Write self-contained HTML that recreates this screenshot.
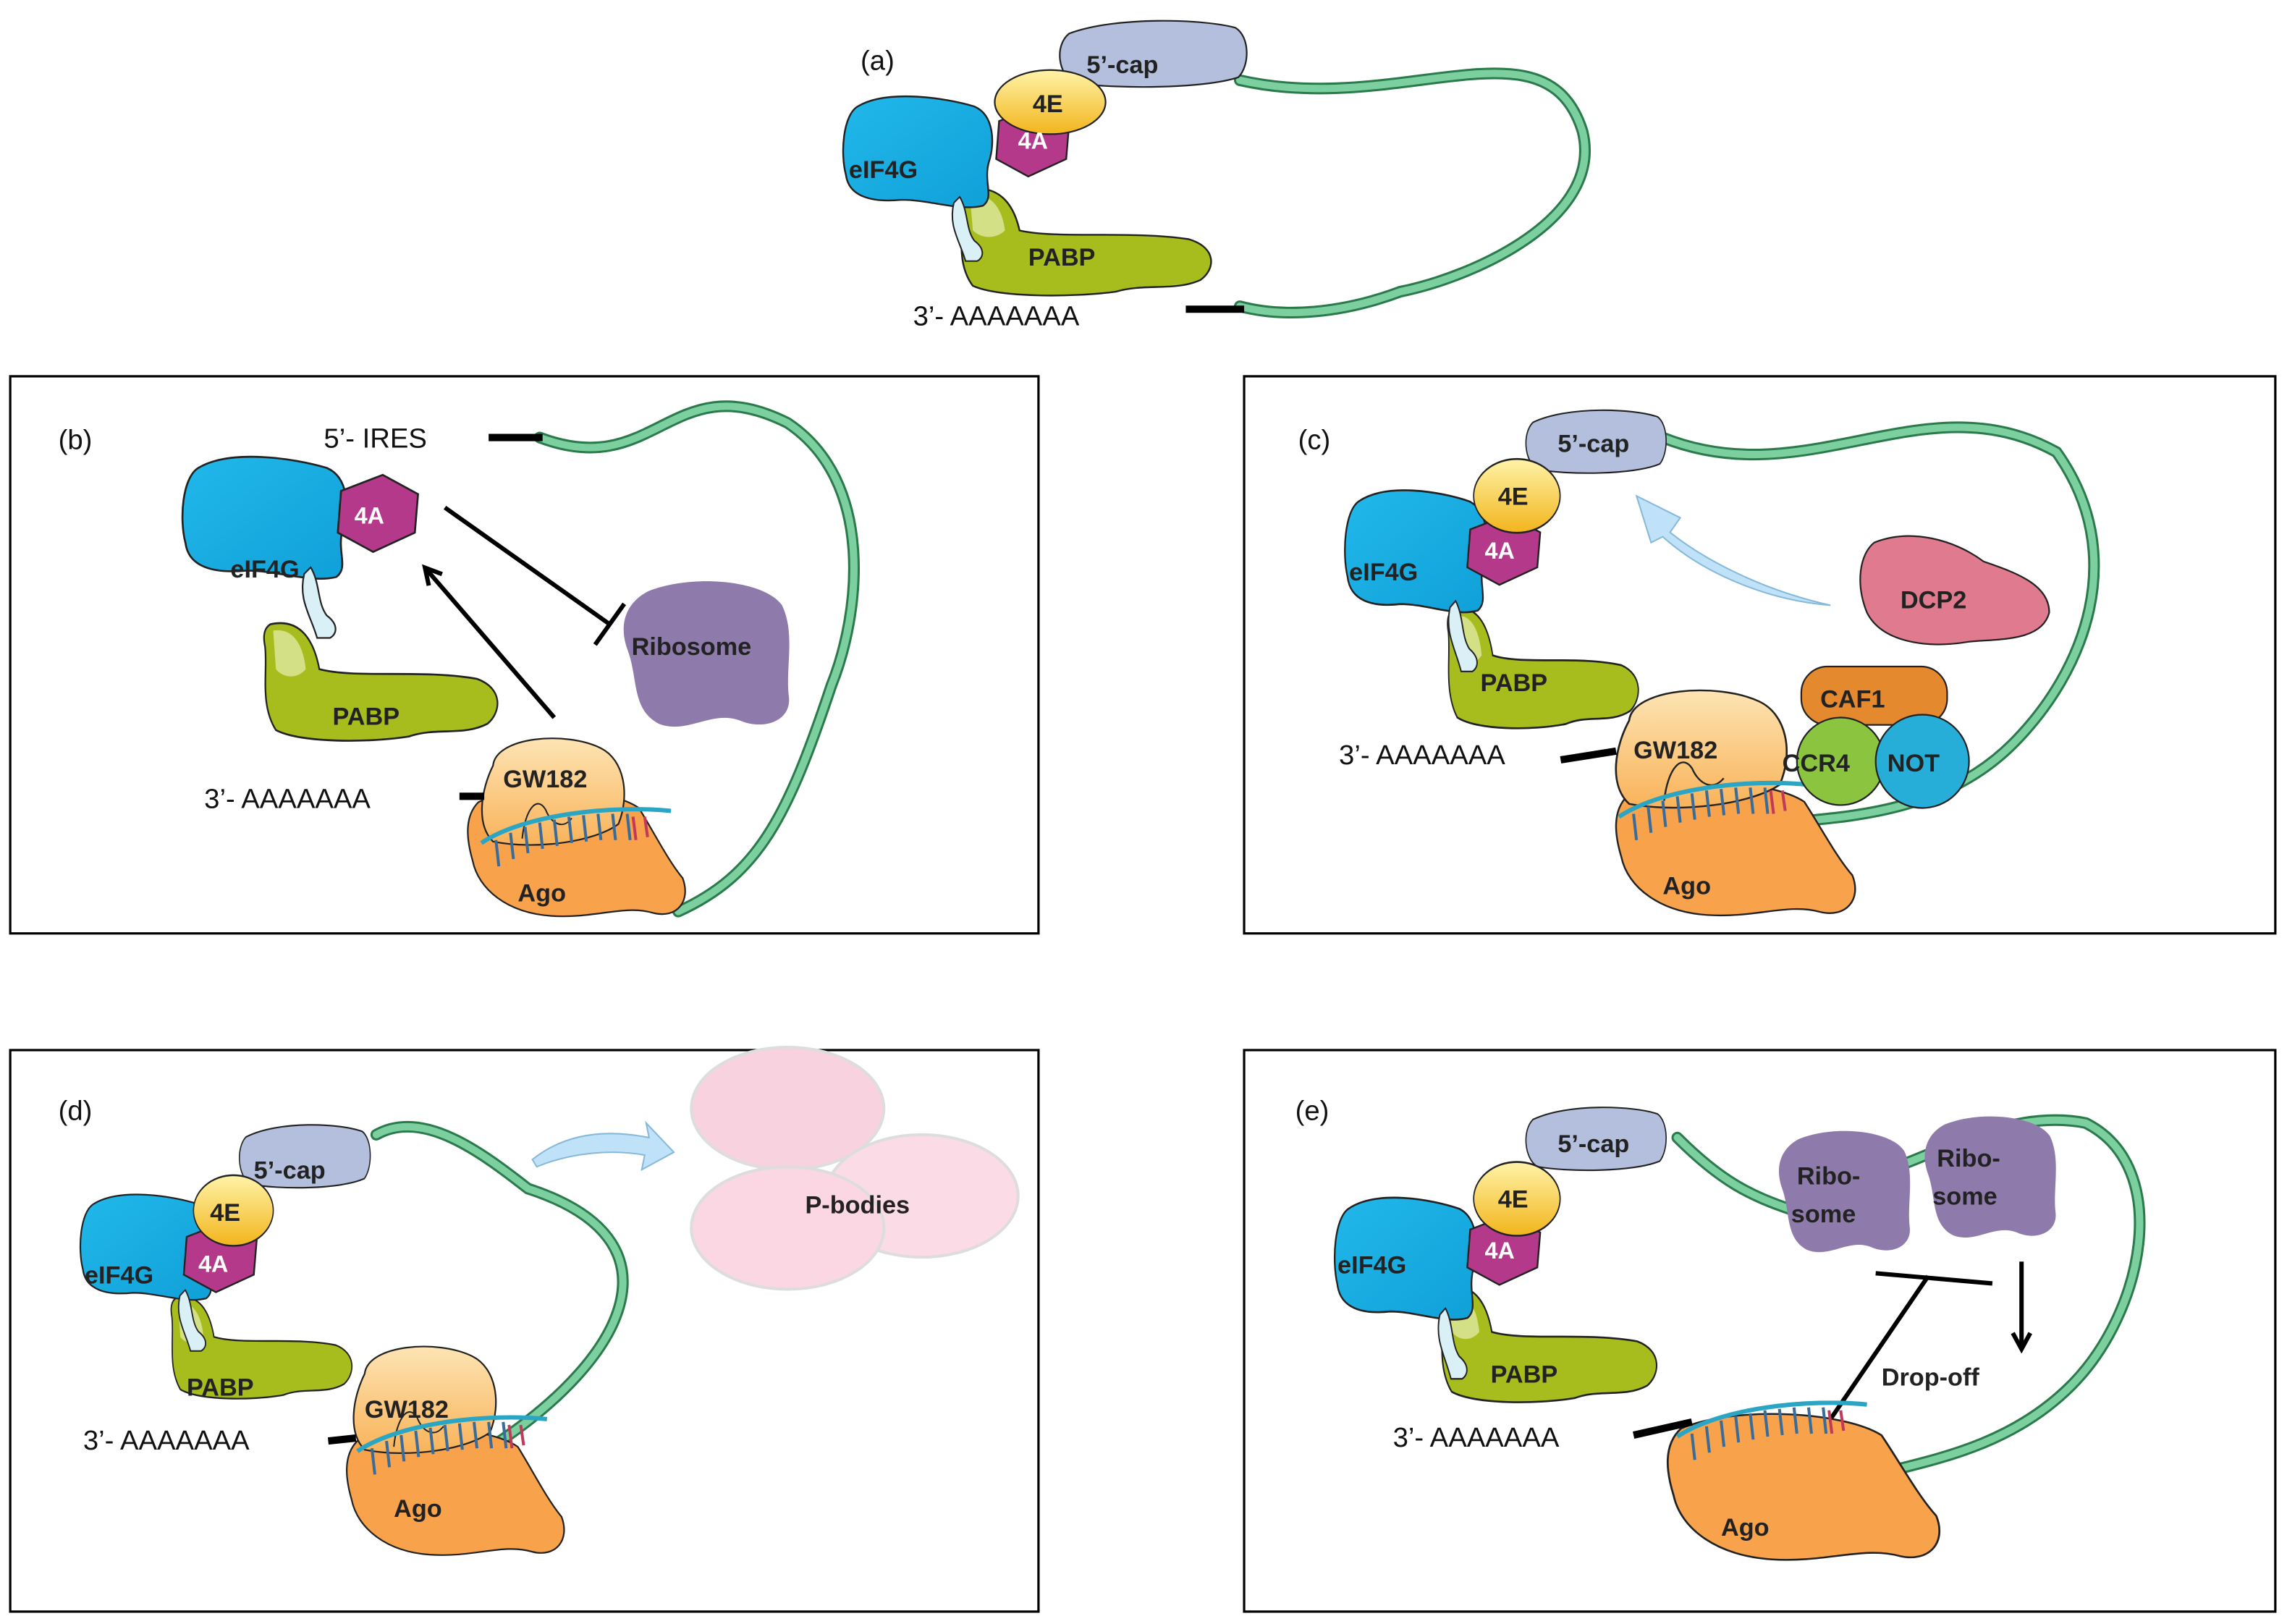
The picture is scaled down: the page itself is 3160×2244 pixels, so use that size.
<!DOCTYPE html>
<html><head><meta charset="utf-8"><style>
html,body{margin:0;padding:0;background:#fff;}
svg{display:block;}
text{font-family:"Liberation Sans",sans-serif;}
.b{font-weight:bold;fill:#222;font-size:17px;}
.w{font-weight:bold;fill:#fff;font-size:16px;}
.n{font-size:19px;fill:#111;}
</style></head><body>
<svg width="3160" height="2244" viewBox="0 0 1568 1113.5" xmlns="http://www.w3.org/2000/svg">
<defs>
<linearGradient id="gE" x1="0" y1="0" x2="0" y2="1"><stop offset="0" stop-color="#fff3a8"/><stop offset="1" stop-color="#f2b51c"/></linearGradient>
<linearGradient id="gG" x1="0" y1="0" x2="1" y2="1"><stop offset="0" stop-color="#22b8ea"/><stop offset="1" stop-color="#0fa0d8"/></linearGradient>
<linearGradient id="gGW" x1="0" y1="0" x2="0" y2="1"><stop offset="0" stop-color="#fde4b3"/><stop offset="1" stop-color="#f9b35a"/></linearGradient>
<g id="eif4g"><path d="M10,8 C30,-4 70,2 90,8 C104,14 104,34 100,46 C96,60 104,70 96,76 C80,80 60,72 40,72 C20,74 4,70 2,55 C-2,40 0,14 10,8Z" fill="url(#gG)" stroke="#222" stroke-width="1.2"/><path d="M80,70 C86,80 84,92 90,100 C98,106 96,112 92,114 L84,114 C80,100 72,90 76,74Z" fill="#d8f0f6" stroke="#222" stroke-width="1"/></g>
<g id="pabp"><path d="M8,0 C30,-4 40,10 44,28 C70,34 120,28 160,34 C180,40 178,55 168,62 C150,70 130,64 110,70 C80,74 30,74 12,66 C0,50 6,30 4,14 C2,6 4,2 8,0Z" fill="#a7bd1d" stroke="#222" stroke-width="1.2"/><path d="M10,4 C24,2 32,12 34,28 C28,34 18,34 12,28Z" fill="#dfe8a0" opacity=".8"/></g>
<g id="cap"><path d="M8,8 C40,-4 100,-2 122,4 C132,10 132,30 124,38 C100,46 40,46 12,42 C0,36 -2,16 8,8Z" fill="#b3bfdc" stroke="#222" stroke-width="1.1"/></g>
<g id="e4"><ellipse cx="0" cy="0" rx="38" ry="22" fill="url(#gE)" stroke="#222" stroke-width="1.1"/></g>
<g id="a4"><polygon points="-22,-14 4,-24 26,-12 24,12 -2,24 -24,12" fill="#b5398b" stroke="#222" stroke-width="1.2"/></g>
<g id="gw"><path d="M10,20 C12,0 60,-4 84,8 C100,16 104,40 96,60 C80,72 40,78 10,72 C-2,60 2,36 10,20Z" fill="url(#gGW)" stroke="#222" stroke-width="1.1"/><path d="M30,70 C32,50 40,40 46,50 C50,60 58,64 64,56" fill="none" stroke="#222" stroke-width="1"/></g>
<g id="ago"><path d="M10,10 C40,-4 100,0 120,14 C130,30 140,50 150,62 C156,78 146,90 130,86 C110,80 90,90 60,88 C30,86 10,70 6,50 C2,36 0,20 10,10Z" fill="#f9a24c" stroke="#222" stroke-width="1.1"/></g>
<g id="rna"><path d="M0,20 C30,0 90,-6 130,-2" fill="none" stroke="#2aa5c4" stroke-width="3"/><path d="M10,18 l2,18 M20,13 l2,18 M30,9 l2,18 M40,6 l2,18 M50,4 l2,18 M60,2 l2,18 M70,1 l2,18 M80,0 l2,18 M90,0 l2,18 M100,0 l2,18" stroke="#3a6c9a" stroke-width="2"/><path d="M104,2 l2,16 M112,2 l2,14" stroke="#c23a5a" stroke-width="2"/></g>
<g id="ribo"><path d="M14,6 C40,-4 80,0 90,14 C98,30 92,50 94,66 C96,80 80,86 66,80 C50,74 36,88 20,82 C4,74 8,56 2,40 C-4,24 2,12 14,6Z" fill="#8e7bab"/></g>
<marker id="ah" markerWidth="16" markerHeight="16" refX="12" refY="8" orient="auto" markerUnits="userSpaceOnUse"><path d="M2,2 L13,8 L2,14" fill="none" stroke="#000" stroke-width="3"/></marker>
</defs>
<g fill="none" stroke="#000" stroke-width="1.6">
<rect x="7" y="258" width="705" height="382"/><rect x="853" y="258" width="707" height="382"/>
<rect x="7" y="720" width="705" height="385"/><rect x="853" y="720" width="707" height="385"/>
</g>

<!-- ribbons -->
<g fill="none" stroke-linecap="round">
<g stroke="#2b7a4b" stroke-width="8">
<path d="M850,55 C960,80 1060,10 1085,90 C1100,150 1010,190 960,200 C920,215 880,218 850,210"/>
<path d="M370,300 C450,330 460,250 540,290 C600,330 590,420 570,470 C540,560 520,600 465,625"/>
<path d="M1140,300 C1240,340 1320,260 1410,310 C1460,380 1430,460 1380,510 C1330,560 1260,560 1215,565"/>
<path d="M258,778 C290,760 330,790 362,815 C470,850 430,930 340,990"/>
<path d="M1150,780 C1180,810 1200,820 1230,830 M1300,800 C1330,790 1380,760 1430,770 C1490,800 1470,900 1420,950 C1380,990 1330,1000 1290,1010"/>
</g>
<g stroke="#7ccf9f" stroke-width="5">
<path d="M850,55 C960,80 1060,10 1085,90 C1100,150 1010,190 960,200 C920,215 880,218 850,210"/>
<path d="M370,300 C450,330 460,250 540,290 C600,330 590,420 570,470 C540,560 520,600 465,625"/>
<path d="M1140,300 C1240,340 1320,260 1410,310 C1460,380 1430,460 1380,510 C1330,560 1260,560 1215,565"/>
<path d="M258,778 C290,760 330,790 362,815 C470,850 430,930 340,990"/>
<path d="M1150,780 C1180,810 1200,820 1230,830 M1300,800 C1330,790 1380,760 1430,770 C1490,800 1470,900 1420,950 C1380,990 1330,1000 1290,1010"/>
</g></g>

<!-- (a) -->
<text x="590" y="48" class="n" font-size="22">(a)</text>
<use href="#pabp" x="655" y="130"/>
<use href="#eif4g" x="578" y="65"/>
<use href="#cap" x="725" y="15"/>
<use href="#a4" x="707" y="97"/>
<use href="#e4" x="720" y="70"/>
<text x="745" y="50" class="b">5’-cap</text><text x="708" y="77" class="b">4E</text><text x="698" y="102" class="w">4A</text>
<text x="582" y="122" class="b">eIF4G</text><text x="705" y="182" class="b" font-size="19">PABP</text>
<text x="626" y="223" class="n">3’- AAAAAAA</text>
<line x1="813" y1="212" x2="853" y2="212" stroke="#000" stroke-width="5"/>

<!-- (b) -->
<text x="40" y="308" class="n" font-size="22">(b)</text>
<text x="222" y="307" class="n">5’- IRES</text>
<line x1="335" y1="300" x2="372" y2="300" stroke="#000" stroke-width="5"/>
<g transform="translate(178,428) scale(0.93,1.1)"><use href="#pabp"/></g>
<g transform="translate(125,312) scale(1.1)"><use href="#eif4g"/></g>
<g transform="translate(258,352) scale(1.1)"><use href="#a4"/></g>
<text x="243" y="359" class="w" font-size="18">4A</text>
<text x="158" y="396" class="b" font-size="18">eIF4G</text>
<text x="228" y="497" class="b" font-size="20">PABP</text>
<g transform="translate(428,398) scale(1.2)"><use href="#ribo"/></g>
<text x="433" y="449" class="b">Ribosome</text>
<line x1="380" y1="492" x2="292" y2="390" stroke="#000" stroke-width="3" marker-end="url(#ah)"/>
<line x1="305" y1="348" x2="418" y2="428" stroke="#000" stroke-width="3"/>
<line x1="408" y1="442" x2="428" y2="414" stroke="#000" stroke-width="3"/>
<use href="#ago" x="318" y="540"/>
<use href="#gw" x="328" y="505"/>
<use href="#rna" x="330" y="558"/>
<text x="345" y="540" class="b">GW182</text><text x="355" y="618" class="b">Ago</text>
<text x="140" y="554" class="n">3’- AAAAAAA</text>
<line x1="315" y1="546" x2="332" y2="546" stroke="#000" stroke-width="5"/>

<!-- (c) -->
<text x="890" y="308" class="n" font-size="22">(c)</text>
<g transform="translate(990,418) scale(0.76,1.12)"><use href="#pabp"/></g>
<g transform="translate(922,335) scale(0.95,1.1)"><use href="#eif4g"/></g>
<g transform="translate(1045,282) scale(0.75,0.95)"><use href="#cap"/></g>
<use href="#a4" x="1030" y="377"/>
<g transform="translate(1040,340) scale(0.78,1.15)"><use href="#e4"/></g>
<text x="1068" y="310" class="b">5’-cap</text><text x="1027" y="346" class="b">4E</text><text x="1018" y="383" class="w">4A</text>
<text x="925" y="398" class="b">eIF4G</text><text x="1015" y="474" class="b" font-size="19">PABP</text>
<path d="M1255,415 C1210,405 1170,385 1145,365 L1152,355 L1122,340 L1132,372 L1140,368 C1170,395 1215,412 1255,415Z" fill="#bfe2f8" stroke="#86b8d8" stroke-width="1"/>
<path d="M1285,372 C1310,362 1340,370 1360,385 C1380,392 1405,400 1405,420 C1400,440 1370,438 1350,440 C1320,445 1290,440 1280,420 C1272,400 1275,380 1285,372Z" fill="#e07a8e" stroke="#222" stroke-width="1.1"/>
<text x="1303" y="417" class="b">DCP2</text>
<g transform="translate(1105,535) scale(1.1,1.05)"><use href="#ago"/></g>
<g transform="translate(1105,472) scale(1.2,1.1)"><use href="#gw"/></g>
<use href="#rna" x="1110" y="540"/>
<rect x="1235" y="457" width="100" height="40" rx="18" fill="#e4892e" stroke="#222" stroke-width="1.1"/>
<circle cx="1262" cy="522" r="30" fill="#8bc53f" stroke="#222" stroke-width="1.1"/>
<circle cx="1318" cy="522" r="32" fill="#27aed8" stroke="#222" stroke-width="1.1"/>
<text x="1248" y="485" class="b">CAF1</text><text x="1222" y="529" class="b">CCR4</text><text x="1294" y="529" class="b">NOT</text>
<text x="1120" y="520" class="b" font-size="18">GW182</text><text x="1140" y="613" class="b">Ago</text>
<text x="918" y="524" class="n">3’- AAAAAAA</text>
<line x1="1070" y1="521" x2="1108" y2="515" stroke="#000" stroke-width="5"/>

<!-- (d) -->
<text x="40" y="768" class="n" font-size="22">(d)</text>
<g transform="translate(115,890) scale(0.72,0.95)"><use href="#pabp"/></g>
<g transform="translate(55,818) scale(0.9,0.95)"><use href="#eif4g"/></g>
<g transform="translate(163,772) scale(0.7,0.95)"><use href="#cap"/></g>
<use href="#a4" x="150" y="862"/>
<g transform="translate(160,830) scale(0.72,1.1)"><use href="#e4"/></g>
<text x="174" y="808" class="b">5’-cap</text><text x="144" y="837" class="b">4E</text><text x="136" y="872" class="w">4A</text>
<text x="58" y="880" class="b">eIF4G</text><text x="128" y="957" class="b" font-size="19">PABP</text>
<use href="#ago" x="235" y="978"/>
<use href="#gw" x="240" y="922"/>
<use href="#rna" x="245" y="975"/>
<text x="250" y="972" class="b" font-size="18">GW182</text><text x="270" y="1040" class="b">Ago</text>
<text x="57" y="994" class="n">3’- AAAAAAA</text>
<line x1="225" y1="988" x2="244" y2="986" stroke="#000" stroke-width="5"/>
<path d="M365,795 C390,775 420,775 445,780 L443,770 L462,790 L440,802 L442,792 C420,788 392,790 368,800Z" fill="#bfe2f8" stroke="#86b8d8" stroke-width="1"/>
<g stroke="#ddd" stroke-width="2">
<ellipse cx="540" cy="760" rx="66" ry="42" fill="#f9d2e0"/>
<ellipse cx="632" cy="820" rx="66" ry="42" fill="#fbdbe6"/>
<ellipse cx="540" cy="842" rx="66" ry="42" fill="#fad7e3"/>
</g>
<text x="552" y="832" class="b" font-size="18">P-bodies</text>

<!-- (e) -->
<text x="888" y="768" class="n" font-size="22">(e)</text>
<g transform="translate(985,883) scale(0.86,1.08)"><use href="#pabp"/></g>
<g transform="translate(915,820) scale(0.95,1.1)"><use href="#eif4g"/></g>
<g transform="translate(1045,760) scale(0.75,0.95)"><use href="#cap"/></g>
<use href="#a4" x="1030" y="857"/>
<g transform="translate(1040,822) scale(0.78,1.15)"><use href="#e4"/></g>
<text x="1068" y="790" class="b">5’-cap</text><text x="1027" y="828" class="b">4E</text><text x="1018" y="863" class="w">4A</text>
<text x="917" y="873" class="b">eIF4G</text><text x="1022" y="948" class="b" font-size="19">PABP</text>
<g transform="translate(1220,775) scale(0.95,1.0)"><use href="#ribo"/></g>
<g transform="translate(1320,765) scale(0.95,1.0)"><use href="#ribo"/></g>
<text x="1232" y="812" class="b">Ribo-</text><text x="1228" y="838" class="b">some</text>
<text x="1328" y="800" class="b">Ribo-</text><text x="1325" y="826" class="b">some</text>
<line x1="1240" y1="995" x2="1322" y2="875" stroke="#000" stroke-width="3"/>
<line x1="1286" y1="873" x2="1366" y2="880" stroke="#000" stroke-width="3"/>
<line x1="1386" y1="865" x2="1386" y2="924" stroke="#000" stroke-width="3" marker-end="url(#ah)"/>
<text x="1290" y="950" class="b" font-size="18">Drop-off</text>
<g transform="translate(1140,968) scale(1.25,1.15)"><use href="#ago"/></g>
<use href="#rna" x="1150" y="965"/>
<text x="1180" y="1053" class="b">Ago</text>
<text x="955" y="992" class="n">3’- AAAAAAA</text>
<line x1="1120" y1="984" x2="1160" y2="975" stroke="#000" stroke-width="5"/>
</svg>
</body></html>
